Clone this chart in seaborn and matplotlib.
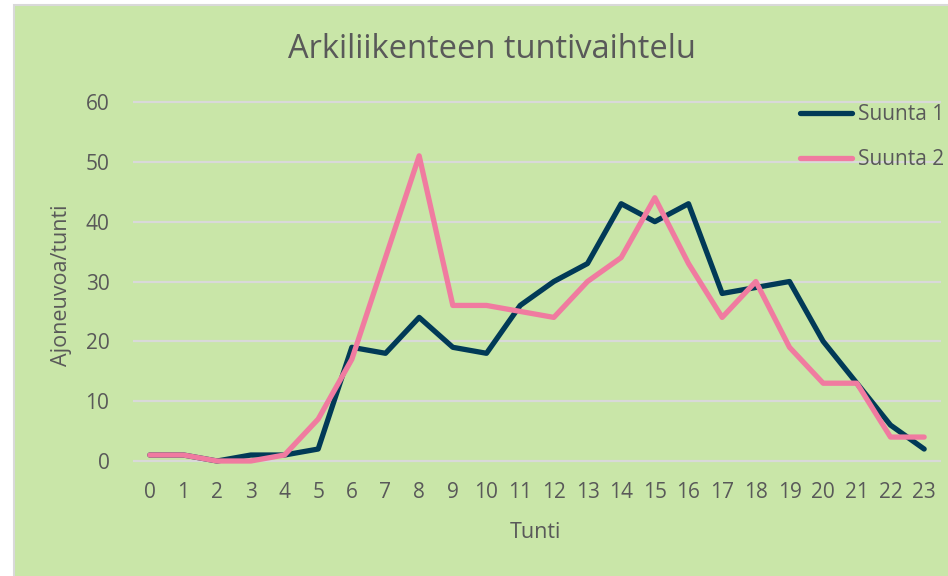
import matplotlib
matplotlib.use("Agg")
import matplotlib.pyplot as plt
import seaborn as sns
import pandas as pd
from matplotlib.patches import Rectangle

# data
hours = list(range(24))
suunta1 = [1, 1, 0, 1, 1, 2, 19, 18, 24, 19, 18, 26, 30, 33, 43, 40, 43, 28, 29, 30, 20, 13, 6, 2]
suunta2 = [1, 1, 0, 0, 1, 7, 17, 34, 51, 26, 26, 25, 24, 30, 34, 44, 33, 24, 30, 19, 13, 13, 4, 4]
series_names = ["Suunta 1", "Suunta 2"]
y_ticks = [0, 10, 20, 30, 40, 50, 60]

BG = "#c9e6a8"
GRID = "#d9d9d9"
TEXT = "#595959"
colors = {"Suunta 1": "#013a57", "Suunta 2": "#f07ba0"}

df = pd.DataFrame({
    "Tunti": hours * 2,
    "Ajoneuvoa": suunta1 + suunta2,
    "Suunta": [series_names[0]] * 24 + [series_names[1]] * 24,
})

sns.set_style("white")
plt.rcParams["font.family"] = ["Open Sans", "DejaVu Sans"]

W, H = 948, 576
fig = plt.figure(figsize=(W / 100, H / 100), dpi=100)
fig.patch.set_facecolor("white")
fig.add_artist(Rectangle((14 / W, -0.01), 1.0, 1.01 - 5 / H, transform=fig.transFigure,
                         facecolor=BG, edgecolor=GRID, linewidth=1.5, zorder=0))

# plot area: y=0 at px 461, y=60 at px 102, x from 133 to 941
ppu = (461 - 102) / 60
ax = fig.add_axes([133 / W, (H - 461 - ppu) / H, 808 / W, (359 + 2 * ppu) / H])
ax.set_facecolor("none")

sns.lineplot(data=df, x="Tunti", y="Ajoneuvoa", hue="Suunta", palette=colors,
             linewidth=3.8, ax=ax)
for ln in ax.lines:
    ln.set_solid_capstyle("round")

ax.set_xlim(-0.5, 23.5)
ax.set_ylim(-1, 61)
ax.set_xticks(hours)
ax.set_yticks(y_ticks)
ax.yaxis.grid(True, color=GRID, linewidth=1.6, zorder=0)
ax.set_axisbelow(True)
for s in ax.spines.values():
    s.set_visible(False)
ax.tick_params(axis="both", length=0, labelsize=15, labelcolor=TEXT)
ax.tick_params(axis="y", pad=17)
ax.tick_params(axis="x", pad=11)

ax.set_xlabel("Tunti", fontsize=15.5, color=TEXT)
ax.xaxis.label.set_va("center")
ax.xaxis.set_label_coords((535 - 133) / 808, (467 - 533) / 371)
ax.set_ylabel("Ajoneuvoa/tunti", fontsize=15.5, color=TEXT)
ax.yaxis.label.set_va("center")
ax.yaxis.set_label_coords((62 - 133) / 808, (467 - 285) / 371)

fig.text(492 / W, 1 - 50 / H, "Arkiliikenteen tuntivaihtelu", fontsize=23.5,
         color=TEXT, ha="center", va="center")

sns.move_legend(ax, loc="upper left", bbox_to_anchor=(800 / W, 1 - 104 / H),
                bbox_transform=fig.transFigure, title=None, frameon=False,
                fontsize=15, handlelength=2.5, handletextpad=0.3,
                labelspacing=1.15, borderpad=0, borderaxespad=0)
for t in ax.get_legend().get_texts():
    t.set_color(TEXT)

fig.savefig("out.png", dpi=100, facecolor=fig.get_facecolor())
